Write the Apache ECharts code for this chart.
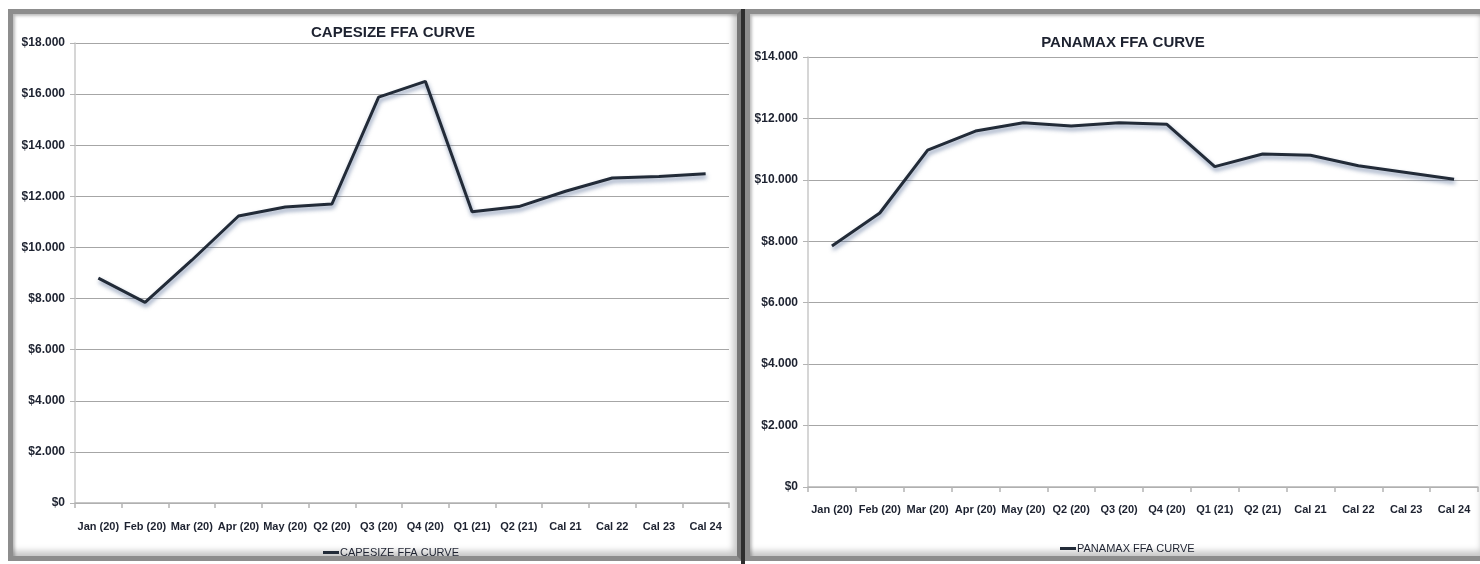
<!DOCTYPE html>
<html>
<head>
<meta charset="utf-8">
<script src="https://cdn.jsdelivr.net/npm/echarts@6/dist/echarts.min.js"></script>
<style>
  html, body { margin: 0; padding: 0; background: #fff; }
  #wrap { position: relative; width: 1480px; height: 564px; overflow: hidden; }
  .frame {
    position: absolute; box-sizing: border-box;
    border: 5px solid #8d8d8d;
    box-shadow: inset 2px 2px 3px rgba(0,0,0,0.25), inset -4px -5px 6px rgba(0,0,0,0.22);
    background: #fff;
  }
  #f1 { left: 8px; top: 9px; width: 734px; height: 552px; border-right-color: #777; }
  #sep { position: absolute; left: 741px; top: 9px; width: 4px; height: 555px; background: #2e2e2e; }
  #f2 { left: 745px; top: 9px; width: 745px; height: 552px; }
  #chart { position: absolute; left: 0; top: 0; width: 1480px; height: 564px; }
</style>
</head>
<body>
<div id="wrap">
  <div class="frame" id="f1"></div>
  <div id="sep"></div>
  <div class="frame" id="f2"></div>
  <div id="chart"></div>
</div>
<script>
// categories (same for both curves)
const categories = [
  "Jan (20)", "Feb (20)", "Mar (20)", "Apr (20)", "May (20)", "Q2 (20)", "Q3 (20)",
  "Q4 (20)", "Q1 (21)", "Q2 (21)", "Cal 21", "Cal 22", "Cal 23", "Cal 24"
];

// CAPESIZE FFA CURVE, $/day
const capesize = [8800, 7850, 9500, 11230, 11580, 11700, 15880, 16500, 11400, 11600, 12200, 12720, 12780, 12880];

// PANAMAX FFA CURVE, $/day
const panamax = [7850, 8920, 10970, 11590, 11860, 11750, 11860, 11810, 10430, 10840, 10800, 10460, 10240, 10020];

const capeTitle = "CAPESIZE FFA CURVE";
const panaTitle = "PANAMAX FFA CURVE";

const font = "'Liberation Sans Narrow', 'Liberation Sans', Arial, sans-serif";
const textColor = "#1d2230";

const money = (v) => {
  if (v === 0) return "$0";
  return "$" + String(v).replace(/\B(?=(\d{3})+(?!\d))/g, ".");
};

const xAxisFor = (gridIndex, margin) => ({
  type: "category",
  gridIndex: gridIndex,
  data: categories,
  boundaryGap: true,
  axisLine: { lineStyle: { color: "#b4b4b4", width: 1.5 } },
  axisTick: { show: true, length: 5, lineStyle: { color: "#b4b4b4", width: 1.5 } },
  axisLabel: {
    interval: 0, margin: margin, color: textColor,
    fontFamily: font, fontWeight: "bold", fontSize: 11,
  },
});

const yAxisFor = (gridIndex, max) => ({
  type: "value",
  gridIndex: gridIndex,
  min: 0, max: max, interval: 2000,
  axisLine: { show: true, lineStyle: { color: "#c8c8c8", width: 1.5 } },
  axisTick: { show: true, length: 5, lineStyle: { color: "#b4b4b4" } },
  splitLine: { lineStyle: { color: "#a6a6a6", width: 1.2 } },
  axisLabel: {
    margin: 10, color: textColor, formatter: money,
    fontFamily: font, fontWeight: "bold", fontSize: 12,
  },
});

const lineSeries = (name, data, idx) => ({
  name: name,
  type: "line",
  xAxisIndex: idx,
  yAxisIndex: idx,
  data: data,
  showSymbol: false,
  symbol: "none",
  lineStyle: {
    color: "#222b38", width: 3,
    shadowColor: "rgba(70, 95, 140, 0.65)", shadowBlur: 4,
    shadowOffsetX: 1, shadowOffsetY: 3,
  },
  itemStyle: { color: "#222b38" },
});

const chart = echarts.init(document.getElementById("chart"));

chart.setOption({
  animation: false,
  backgroundColor: "transparent",
  title: [
    {
      text: capeTitle, left: 388, top: 20, textAlign: "center",
      textStyle: { fontFamily: font, fontWeight: "bold", fontSize: 15, color: textColor },
    },
    {
      text: panaTitle, left: 1118, top: 30, textAlign: "center",
      textStyle: { fontFamily: font, fontWeight: "bold", fontSize: 15, color: textColor },
    },
  ],
  legend: [
    {
      data: [capeTitle], left: 318, top: 542,
      itemWidth: 16, itemHeight: 3, itemGap: 2,
      icon: "rect",
      textStyle: { fontFamily: font, fontSize: 11, color: textColor, padding: [0, 0, 0, -4] },
    },
    {
      data: [panaTitle], left: 1055, top: 538,
      itemWidth: 16, itemHeight: 3, itemGap: 2,
      icon: "rect",
      textStyle: { fontFamily: font, fontSize: 11, color: textColor, padding: [0, 0, 0, -4] },
    },
  ],
  grid: [
    { left: 75, top: 43, width: 654, height: 460 },
    { left: 808, top: 57, width: 670, height: 430 },
  ],
  xAxis: [xAxisFor(0, 18), xAxisFor(1, 17)],
  yAxis: [yAxisFor(0, 18000), yAxisFor(1, 14000)],
  series: [
    lineSeries(capeTitle, capesize, 0),
    lineSeries(panaTitle, panamax, 1),
  ],
});
</script>
</body>
</html>
